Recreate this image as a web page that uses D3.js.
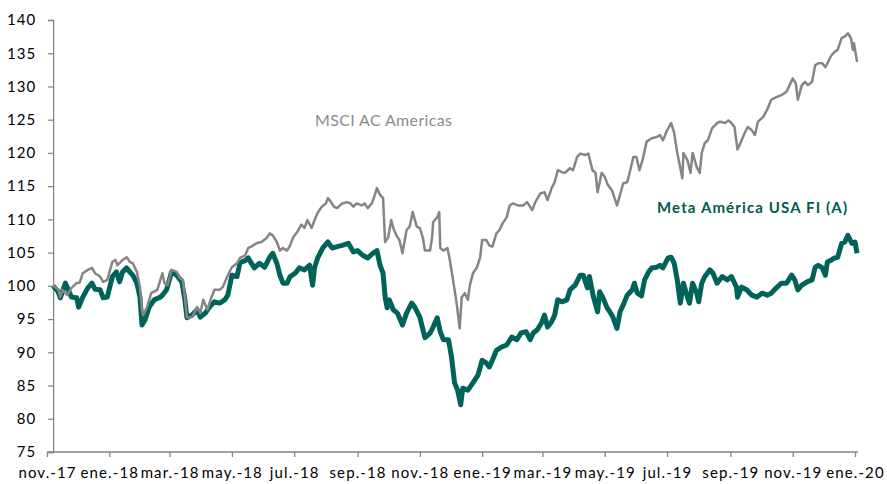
<!DOCTYPE html>
<html>
<head>
<meta charset="utf-8">
<script src="https://cdn.jsdelivr.net/npm/d3@7"></script>
<style>
  body { margin: 0; background: #fff; }
  svg text { font-family: Lato, "Open Sans", sans-serif; }
</style>
</head>
<body>
<div id="chart"></div>
<script>
// Meta América USA FI (A) vs MSCI AC Americas, base 100
const yTicks = [75, 80, 85, 90, 95, 100, 105, 110, 115, 120, 125, 130, 135, 140];

const xTickDates = ["2017-11-15", "2018-01-15", "2018-03-15", "2018-05-15", "2018-07-15",
  "2018-09-15", "2018-11-15", "2019-01-15", "2019-03-15", "2019-05-15", "2019-07-15",
  "2019-09-15", "2019-11-15", "2020-01-15"];
const xTickLabels = ["nov.-17", "ene.-18", "mar.-18", "may.-18", "jul.-18", "sep.-18",
  "nov.-18", "ene.-19", "mar.-19", "may.-19", "jul.-19", "sep.-19", "nov.-19", "ene.-20"];

const msci = [
  ["2017-11-21", 100.0], ["2017-11-26", 99.5], ["2017-11-28", 98.3], ["2017-11-30", 99.4],
  ["2017-12-05", 98.6], ["2017-12-09", 99.7], ["2017-12-14", 100.4], ["2017-12-17", 100.5],
  ["2017-12-20", 101.9], ["2017-12-25", 102.4], ["2017-12-29", 102.7], ["2018-01-01", 101.9],
  ["2018-01-06", 101.4], ["2018-01-09", 100.6], ["2018-01-13", 100.9], ["2018-01-18", 103.6],
  ["2018-01-21", 103.9], ["2018-01-23", 103.1], ["2018-01-28", 103.9], ["2018-02-01", 104.3],
  ["2018-02-04", 103.6], ["2018-02-07", 103.4], ["2018-02-11", 102.1], ["2018-02-14", 99.8],
  ["2018-02-16", 96.4], ["2018-02-17", 95.6], ["2018-02-21", 96.8], ["2018-02-25", 98.9],
  ["2018-03-03", 99.4], ["2018-03-06", 100.9], ["2018-03-08", 101.9], ["2018-03-10", 100.4],
  ["2018-03-13", 100.1], ["2018-03-17", 102.4], ["2018-03-22", 102.1], ["2018-03-25", 101.2],
  ["2018-03-28", 100.9], ["2018-03-30", 98.3], ["2018-04-01", 95.2], ["2018-04-06", 95.3],
  ["2018-04-11", 96.8], ["2018-04-14", 95.9], ["2018-04-17", 97.9], ["2018-04-21", 96.4],
  ["2018-04-25", 98.3], ["2018-04-28", 99.4], ["2018-05-03", 99.4], ["2018-05-06", 99.8],
  ["2018-05-11", 101.6], ["2018-05-15", 102.8], ["2018-05-20", 103.4], ["2018-05-23", 104.2],
  ["2018-05-28", 104.6], ["2018-05-31", 105.7], ["2018-06-03", 105.9], ["2018-06-08", 106.4],
  ["2018-06-13", 106.6], ["2018-06-18", 107.2], ["2018-06-21", 107.9], ["2018-06-24", 107.6],
  ["2018-06-28", 106.6], ["2018-07-01", 105.3], ["2018-07-04", 105.7], ["2018-07-08", 105.3],
  ["2018-07-11", 106.1], ["2018-07-14", 107.3], ["2018-07-18", 108.1], ["2018-07-22", 109.2],
  ["2018-07-25", 108.7], ["2018-07-28", 109.9], ["2018-08-01", 108.7], ["2018-08-04", 109.9],
  ["2018-08-07", 111.0], ["2018-08-11", 111.9], ["2018-08-15", 112.4], ["2018-08-17", 113.2],
  ["2018-08-20", 112.6], ["2018-08-23", 111.9], ["2018-08-26", 111.7], ["2018-08-31", 112.4],
  ["2018-09-05", 112.6], ["2018-09-08", 112.4], ["2018-09-11", 111.9], ["2018-09-14", 112.4],
  ["2018-09-19", 112.1], ["2018-09-22", 112.4], ["2018-09-25", 111.7], ["2018-09-29", 112.4],
  ["2018-10-02", 113.7], ["2018-10-04", 114.7], ["2018-10-07", 113.7], ["2018-10-10", 113.2],
  ["2018-10-12", 106.6], ["2018-10-15", 107.3], ["2018-10-18", 109.9], ["2018-10-20", 108.7],
  ["2018-10-23", 107.6], ["2018-10-26", 106.9], ["2018-10-29", 104.9], ["2018-11-02", 108.4],
  ["2018-11-05", 108.9], ["2018-11-08", 111.1], ["2018-11-12", 108.9], ["2018-11-15", 108.7],
  ["2018-11-18", 107.2], ["2018-11-20", 105.3], ["2018-11-25", 105.3], ["2018-11-27", 107.3],
  ["2018-11-28", 109.6], ["2018-12-02", 110.3], ["2018-12-04", 111.1], ["2018-12-05", 105.7],
  ["2018-12-08", 105.3], ["2018-12-12", 105.7], ["2018-12-14", 104.2], ["2018-12-17", 101.4],
  ["2018-12-21", 97.4], ["2018-12-24", 93.6], ["2018-12-26", 98.3], ["2018-12-29", 98.9],
  ["2019-01-01", 97.9], ["2019-01-03", 100.1], ["2019-01-06", 101.9], ["2019-01-10", 102.8],
  ["2019-01-13", 104.3], ["2019-01-15", 106.9], ["2019-01-19", 106.9], ["2019-01-22", 106.1],
  ["2019-01-25", 105.9], ["2019-01-29", 107.9], ["2019-02-01", 108.4], ["2019-02-04", 109.4],
  ["2019-02-08", 110.3], ["2019-02-11", 112.1], ["2019-02-14", 112.4], ["2019-02-19", 112.1],
  ["2019-02-24", 112.1], ["2019-02-28", 112.6], ["2019-03-05", 111.4], ["2019-03-08", 112.6],
  ["2019-03-13", 113.9], ["2019-03-17", 114.1], ["2019-03-20", 112.9], ["2019-03-24", 114.7],
  ["2019-03-27", 115.6], ["2019-03-30", 117.4], ["2019-04-03", 117.1], ["2019-04-06", 117.0],
  ["2019-04-11", 117.7], ["2019-04-14", 117.4], ["2019-04-18", 119.4], ["2019-04-21", 119.9],
  ["2019-04-26", 119.7], ["2019-04-29", 119.9], ["2019-05-03", 117.4], ["2019-05-06", 117.0],
  ["2019-05-08", 114.1], ["2019-05-12", 117.0], ["2019-05-15", 116.4], ["2019-05-18", 115.2],
  ["2019-05-22", 114.4], ["2019-05-27", 112.1], ["2019-05-30", 113.7], ["2019-06-02", 115.4],
  ["2019-06-06", 115.6], ["2019-06-09", 117.4], ["2019-06-12", 119.4], ["2019-06-15", 119.4],
  ["2019-06-18", 117.4], ["2019-06-21", 118.9], ["2019-06-25", 121.7], ["2019-06-30", 122.2],
  ["2019-07-05", 122.4], ["2019-07-08", 122.7], ["2019-07-11", 121.9], ["2019-07-15", 123.4],
  ["2019-07-19", 124.5], ["2019-07-22", 123.0], ["2019-07-25", 120.0], ["2019-07-30", 116.2],
  ["2019-07-31", 120.0], ["2019-08-04", 118.9], ["2019-08-07", 117.0], ["2019-08-09", 120.0],
  ["2019-08-13", 117.9], ["2019-08-16", 117.0], ["2019-08-18", 120.0], ["2019-08-21", 121.5],
  ["2019-08-24", 121.9], ["2019-08-28", 123.7], ["2019-09-02", 124.5], ["2019-09-05", 124.7],
  ["2019-09-10", 124.5], ["2019-09-13", 124.9], ["2019-09-16", 124.5], ["2019-09-19", 123.9],
  ["2019-09-22", 120.5], ["2019-09-26", 121.9], ["2019-09-29", 123.0], ["2019-10-02", 123.9],
  ["2019-10-06", 123.4], ["2019-10-09", 122.7], ["2019-10-12", 124.7], ["2019-10-17", 125.4],
  ["2019-10-21", 126.5], ["2019-10-25", 128.0], ["2019-10-30", 128.4], ["2019-11-04", 128.7],
  ["2019-11-09", 129.2], ["2019-11-12", 130.2], ["2019-11-15", 131.2], ["2019-11-18", 130.5],
  ["2019-11-20", 128.0], ["2019-11-24", 130.2], ["2019-11-27", 130.7], ["2019-11-30", 130.2],
  ["2019-12-04", 130.7], ["2019-12-07", 133.2], ["2019-12-10", 133.5], ["2019-12-14", 133.5],
  ["2019-12-17", 132.9], ["2019-12-19", 133.5], ["2019-12-23", 134.7], ["2019-12-26", 135.2],
  ["2019-12-29", 135.5], ["2020-01-02", 137.3], ["2020-01-05", 137.5], ["2020-01-08", 138.0],
  ["2020-01-11", 137.3], ["2020-01-13", 135.5], ["2020-01-14", 136.5], ["2020-01-17", 133.7]
];

const meta = [
  ["2017-11-21", 100.0], ["2017-11-26", 99.1], ["2017-11-28", 98.2], ["2017-12-03", 100.4],
  ["2017-12-05", 99.7], ["2017-12-09", 98.3], ["2017-12-14", 98.2], ["2017-12-16", 96.8],
  ["2017-12-20", 98.3], ["2017-12-25", 99.7], ["2017-12-29", 100.4], ["2018-01-01", 99.5],
  ["2018-01-06", 99.4], ["2018-01-09", 98.2], ["2018-01-13", 98.3], ["2018-01-18", 101.4],
  ["2018-01-22", 102.1], ["2018-01-25", 100.6], ["2018-01-28", 102.1], ["2018-02-01", 102.7],
  ["2018-02-04", 102.1], ["2018-02-07", 101.6], ["2018-02-11", 100.4], ["2018-02-14", 98.3],
  ["2018-02-16", 94.1], ["2018-02-19", 94.9], ["2018-02-23", 96.8], ["2018-02-28", 97.9],
  ["2018-03-06", 98.3], ["2018-03-08", 98.6], ["2018-03-12", 99.4], ["2018-03-17", 102.1],
  ["2018-03-22", 101.6], ["2018-03-27", 100.6], ["2018-03-30", 97.9], ["2018-04-01", 95.2],
  ["2018-04-06", 95.6], ["2018-04-11", 96.4], ["2018-04-14", 95.3], ["2018-04-19", 95.9],
  ["2018-04-23", 96.8], ["2018-04-28", 97.6], ["2018-05-03", 97.4], ["2018-05-08", 97.9],
  ["2018-05-11", 98.6], ["2018-05-15", 101.6], ["2018-05-20", 101.4], ["2018-05-23", 103.5],
  ["2018-05-28", 103.8], ["2018-05-31", 104.2], ["2018-06-01", 103.9], ["2018-06-06", 102.7],
  ["2018-06-11", 103.4], ["2018-06-16", 102.8], ["2018-06-21", 104.3], ["2018-06-24", 104.9],
  ["2018-06-28", 103.4], ["2018-07-01", 101.6], ["2018-07-04", 100.4], ["2018-07-08", 100.4],
  ["2018-07-11", 101.4], ["2018-07-16", 101.9], ["2018-07-20", 102.7], ["2018-07-25", 102.4],
  ["2018-07-30", 103.1], ["2018-08-02", 100.1], ["2018-08-04", 102.8], ["2018-08-07", 104.2],
  ["2018-08-12", 105.7], ["2018-08-17", 106.6], ["2018-08-21", 105.7], ["2018-08-26", 105.9],
  ["2018-08-31", 106.1], ["2018-09-06", 106.4], ["2018-09-11", 105.1], ["2018-09-15", 105.3],
  ["2018-09-20", 104.6], ["2018-09-25", 104.2], ["2018-09-30", 104.9], ["2018-10-04", 105.3],
  ["2018-10-07", 103.1], ["2018-10-10", 101.9], ["2018-10-12", 98.3], ["2018-10-14", 96.7],
  ["2018-10-16", 97.9], ["2018-10-20", 96.4], ["2018-10-24", 95.9], ["2018-10-29", 94.1],
  ["2018-11-02", 95.9], ["2018-11-07", 97.4], ["2018-11-10", 96.8], ["2018-11-15", 95.3],
  ["2018-11-20", 92.2], ["2018-11-25", 92.9], ["2018-11-28", 93.8], ["2018-12-02", 95.2],
  ["2018-12-05", 93.1], ["2018-12-08", 91.9], ["2018-12-13", 91.9], ["2018-12-16", 89.3],
  ["2018-12-19", 85.4], ["2018-12-22", 84.3], ["2018-12-25", 82.1], ["2018-12-27", 84.6],
  ["2019-01-01", 84.3], ["2019-01-06", 85.4], ["2019-01-11", 86.6], ["2019-01-15", 88.8],
  ["2019-01-19", 88.4], ["2019-01-22", 87.8], ["2019-01-25", 88.8], ["2019-01-29", 90.3],
  ["2019-02-03", 90.8], ["2019-02-08", 91.1], ["2019-02-13", 92.3], ["2019-02-18", 91.9],
  ["2019-02-22", 92.9], ["2019-02-27", 93.1], ["2019-03-03", 91.9], ["2019-03-06", 92.9],
  ["2019-03-10", 93.4], ["2019-03-14", 94.4], ["2019-03-17", 95.6], ["2019-03-20", 93.8],
  ["2019-03-24", 94.6], ["2019-03-27", 95.6], ["2019-03-30", 97.9], ["2019-04-03", 97.6],
  ["2019-04-08", 97.9], ["2019-04-11", 99.4], ["2019-04-16", 100.1], ["2019-04-21", 101.6],
  ["2019-04-24", 101.6], ["2019-04-28", 99.7], ["2019-04-30", 101.4], ["2019-05-04", 98.3],
  ["2019-05-08", 96.1], ["2019-05-10", 99.1], ["2019-05-13", 98.3], ["2019-05-17", 96.8],
  ["2019-05-20", 96.1], ["2019-05-23", 95.3], ["2019-05-27", 93.6], ["2019-05-30", 96.1],
  ["2019-06-02", 97.1], ["2019-06-06", 98.6], ["2019-06-11", 99.4], ["2019-06-13", 100.4],
  ["2019-06-16", 98.9], ["2019-06-20", 98.5], ["2019-06-23", 100.9], ["2019-06-27", 102.1],
  ["2019-06-30", 102.7], ["2019-07-05", 102.8], ["2019-07-08", 103.1], ["2019-07-11", 102.7],
  ["2019-07-16", 104.2], ["2019-07-19", 104.3], ["2019-07-22", 103.4], ["2019-07-25", 100.9],
  ["2019-07-28", 97.4], ["2019-07-31", 100.4], ["2019-08-04", 98.3], ["2019-08-06", 97.4],
  ["2019-08-09", 100.4], ["2019-08-13", 98.9], ["2019-08-15", 97.6], ["2019-08-18", 100.4],
  ["2019-08-21", 101.4], ["2019-08-26", 102.4], ["2019-08-29", 101.9], ["2019-09-02", 100.4],
  ["2019-09-07", 101.4], ["2019-09-12", 100.9], ["2019-09-16", 101.4], ["2019-09-21", 99.8],
  ["2019-09-22", 98.3], ["2019-09-26", 99.8], ["2019-10-01", 99.4], ["2019-10-06", 98.6],
  ["2019-10-11", 98.3], ["2019-10-16", 98.9], ["2019-10-21", 98.6], ["2019-10-25", 98.9],
  ["2019-10-30", 99.7], ["2019-11-04", 100.4], ["2019-11-09", 100.4], ["2019-11-14", 101.6],
  ["2019-11-17", 100.9], ["2019-11-20", 99.4], ["2019-11-24", 100.1], ["2019-11-29", 100.6],
  ["2019-12-04", 100.9], ["2019-12-07", 102.8], ["2019-12-10", 103.1], ["2019-12-14", 102.7],
  ["2019-12-17", 101.6], ["2019-12-19", 103.6], ["2019-12-23", 103.9], ["2019-12-26", 104.2],
  ["2019-12-29", 104.3], ["2020-01-02", 106.4], ["2020-01-05", 106.6], ["2020-01-08", 107.6],
  ["2020-01-12", 106.4], ["2020-01-15", 106.6], ["2020-01-17", 104.9]
];

const width = 887;
const height = 484;
const parse = d3.utcParse("%Y-%m-%d");

const svg = d3.select("#chart")
  .append("svg")
  .attr("width", width)
  .attr("height", height);

const x = d3.scaleUtc()
  .domain([parse("2017-11-15"), parse("2020-01-15")])
  .range([47, 855]);

const y = d3.scaleLinear()
  .domain([75, 140])
  .range([452, 20]);

const axisColor = "#868686";
const tickDates = xTickDates.map(parse);
const yAxisX = x(parse(msci[0][0]));

// x axis
const xAxis = svg.append("g")
  .attr("transform", `translate(0,${y(75)})`)
  .call(d3.axisBottom(x)
    .tickValues(tickDates)
    .tickSize(5)
    .tickSizeOuter(0)
    .tickFormat((d, i) => xTickLabels[i]));
xAxis.select(".domain")
  .attr("d", `M${x(tickDates[0])},0H${x(parse("2020-01-17")) + 1}`)
  .attr("stroke", axisColor)
  .attr("stroke-width", 1.3);
xAxis.selectAll(".tick line").attr("stroke", axisColor).attr("stroke-width", 1.3);
xAxis.selectAll(".tick text")
  .attr("fill", "#000")
  .attr("font-size", 15)
  .attr("letter-spacing", 1.1)
  .attr("y", 15);

// y axis
const yAxis = svg.append("g")
  .attr("transform", `translate(${yAxisX},0)`)
  .call(d3.axisLeft(y)
    .tickValues(yTicks)
    .tickSize(5)
    .tickSizeOuter(5));
yAxis.select(".domain").attr("stroke", axisColor).attr("stroke-width", 1.3);
yAxis.selectAll(".tick line").attr("stroke", axisColor).attr("stroke-width", 1.3);
yAxis.selectAll(".tick text")
  .attr("fill", "#000")
  .attr("font-size", 15)
  .attr("letter-spacing", 1)
  .attr("x", -17);

const line = d3.line()
  .x(d => x(parse(d[0])))
  .y(d => y(d[1]));

svg.append("path")
  .datum(meta)
  .attr("fill", "none")
  .attr("stroke", "#00635a")
  .attr("stroke-width", 5)
  .attr("stroke-linejoin", "round")
  .attr("d", line);

svg.append("path")
  .datum(msci)
  .attr("fill", "none")
  .attr("stroke", "#858585")
  .attr("stroke-width", 2.5)
  .attr("stroke-linejoin", "round")
  .attr("d", line);

// series labels
svg.append("text")
  .attr("x", 315)
  .attr("y", 126)
  .attr("font-size", 16)
  .attr("fill", "#8c8c8c")
  .attr("textLength", 137)
  .attr("lengthAdjust", "spacing")
  .text("MSCI AC Americas");

svg.append("text")
  .attr("x", 657)
  .attr("y", 213)
  .attr("font-size", 15)
  .attr("font-weight", "bold")
  .attr("fill", "#005a50")
  .attr("textLength", 190)
  .attr("lengthAdjust", "spacing")
  .text("Meta América USA FI (A)");
</script>
</body>
</html>
